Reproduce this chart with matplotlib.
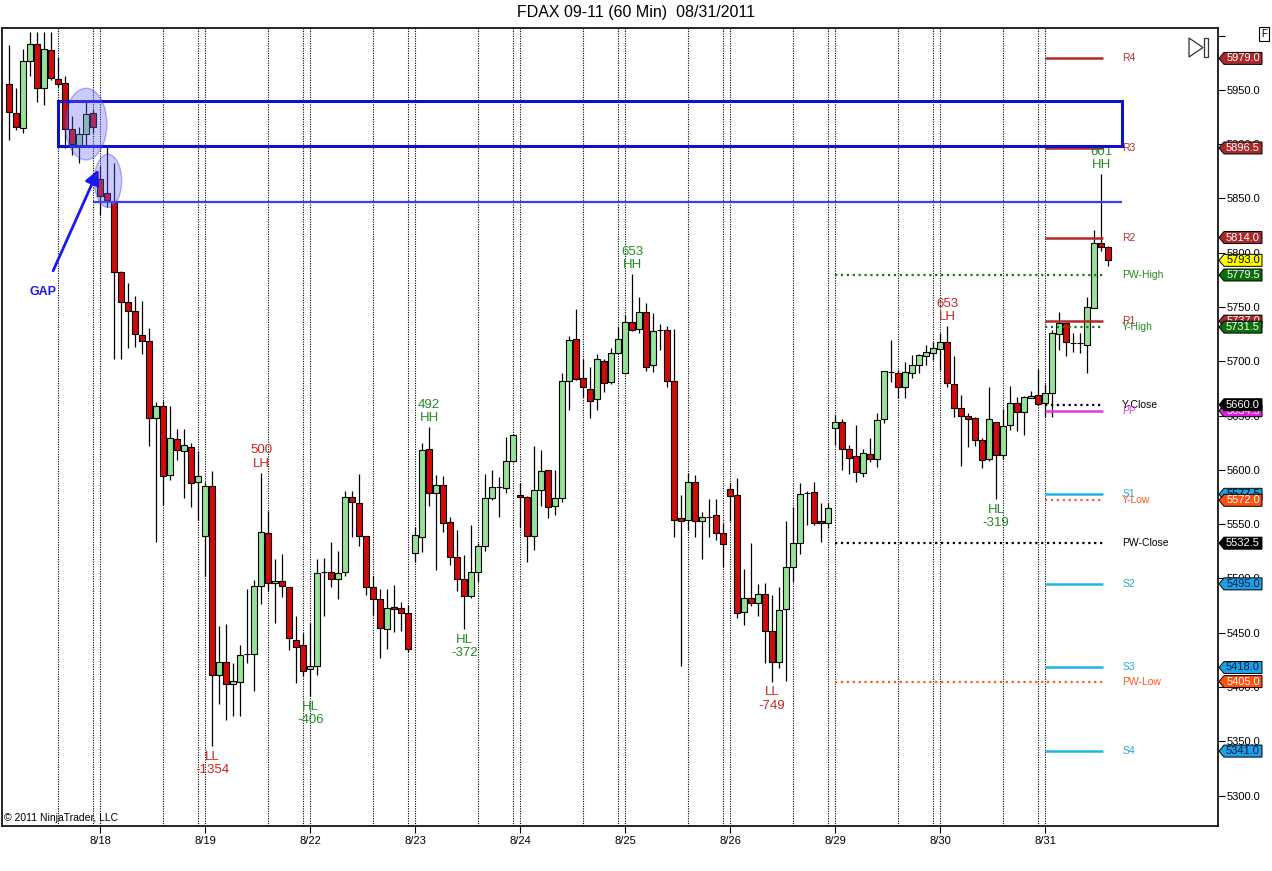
import numpy as np
import matplotlib
matplotlib.use('Agg')
import matplotlib.pyplot as plt
from matplotlib.patches import Rectangle, Ellipse, Polygon

plt.rcParams['font.family'] = ['Liberation Sans', 'DejaVu Sans']

# hourly FDAX bars, 8/17 (partial) .. 8/31
opens = [5955.5, 5929, 5914.5, 5977, 5992.5, 5951.5, 5986.5, 5960, 5956, 5914, 5899.5, 5909, 5928.5,
         5867.5, 5855, 5848, 5782.5, 5755, 5746, 5724, 5719, 5647.5, 5659, 5595, 5628, 5617.5, 5621,
         5588.5, 5539.5, 5585, 5411.5, 5423.5, 5402.5, 5404.5, 5430, 5430, 5493, 5541.5, 5495.5,
         5498, 5492, 5443.5, 5439, 5416.5, 5419, 5505.5, 5506, 5499.5, 5505.5, 5575, 5569.5, 5539,
         5492, 5481, 5453.5, 5474, 5472.5, 5468, 5523.5, 5538.5, 5619, 5578.5, 5586, 5552, 5520,
         5499.5, 5483.5, 5506, 5530, 5574, 5584, 5583, 5608.5, 5577, 5575, 5539, 5581.5, 5599.5,
         5567, 5574, 5682, 5720.5, 5684.5, 5674.5, 5665, 5700.5, 5680.5, 5707.5, 5689, 5736,
         5729.5, 5745, 5696.5, 5728.5, 5729, 5682, 5555.5, 5553.5, 5589, 5552.5, 5557, 5558.5,
         5541.5, 5582, 5577, 5469.5, 5482, 5477, 5485.5, 5452, 5423.5, 5471.5, 5510.5, 5532.5,
         5579, 5579.5, 5552.5, 5551, 5638.5, 5644, 5619, 5613, 5597.5, 5614.5, 5610, 5646.5,
         5690.5, 5689.5, 5676.5, 5689.5, 5696.5, 5705, 5707.5, 5711, 5717.5, 5679, 5657, 5649.5,
         5647.5, 5627.5, 5610, 5644, 5614, 5641.5, 5662, 5653, 5666.5, 5669, 5661.5, 5670.5,
         5725.5, 5735, 5717, 5717, 5715, 5749, 5809, 5805.5]
highs = [5991.5, 5951.5, 5987.5, 6003, 6003, 6003, 6003, 5980, 5962.5, 5926, 5916, 5939, 5931.5,
         5879.5, 5898, 5882.5, 5783, 5772.5, 5760.5, 5756, 5730.5, 5662.5, 5663.5, 5658.5, 5638,
         5637.5, 5624.5, 5617.5, 5588.5, 5599, 5456.5, 5458, 5422, 5439, 5490.5, 5498.5, 5597.5,
         5562, 5518, 5522.5, 5492, 5465.5, 5449.5, 5459, 5517.5, 5518.5, 5534, 5525.5, 5581, 5581,
         5596, 5539, 5502.5, 5490, 5490, 5494, 5478.5, 5475.5, 5547, 5624.5, 5639.5, 5595.5, 5594,
         5557, 5544.5, 5521.5, 5549.5, 5532.5, 5596.5, 5599.5, 5593.5, 5630.5, 5633, 5587.5,
         5575.5, 5622, 5618.5, 5600, 5600, 5689, 5723.5, 5748.5, 5702, 5695, 5707, 5702, 5712,
         5731.5, 5743, 5780.5, 5759, 5753.5, 5744.5, 5734.5, 5732.5, 5729.5, 5577, 5597, 5595.5,
         5561.5, 5573, 5573, 5551, 5587.5, 5592.5, 5508.5, 5532.5, 5495, 5495.5, 5485, 5492.5,
         5552.5, 5565.5, 5587.5, 5581, 5589, 5569.5, 5569.5, 5650.5, 5647, 5623, 5641.5, 5619.5,
         5629, 5652, 5691.5, 5719.5, 5692, 5699, 5706, 5707, 5715, 5718, 5726, 5732.5, 5705, 5669,
         5652, 5649, 5629, 5676, 5644.5, 5656, 5677.5, 5667, 5668, 5673, 5692.5, 5679, 5729, 5745,
         5736.5, 5726, 5726, 5759.5, 5820.5, 5872.5, 5806]
lows = [5903.5, 5913, 5910, 5962.5, 5938.5, 5936, 5959, 5953, 5896.5, 5890, 5882.5, 5897, 5910,
        5835, 5842.5, 5702, 5702, 5712, 5713, 5706.5, 5622, 5534, 5567.5, 5590.5, 5609, 5574.5,
        5565.5, 5554, 5502.5, 5346, 5384, 5370, 5373.5, 5373, 5422, 5396.5, 5476.5, 5488, 5459,
        5482.5, 5434, 5403.5, 5410.5, 5392, 5411, 5465.5, 5492.5, 5481, 5502.5, 5538, 5529.5, 5485,
        5466.5, 5426.5, 5435, 5451, 5452, 5432.5, 5515.5, 5524, 5567, 5508, 5543, 5512.5, 5488,
        5453.5, 5482, 5497, 5525.5, 5572.5, 5557, 5578.5, 5607.5, 5547, 5515.5, 5526.5, 5567,
        5555.5, 5558.5, 5570, 5655.5, 5683, 5667, 5647.5, 5655.5, 5672, 5679, 5707, 5688.5, 5727.5,
        5726.5, 5691.5, 5690.5, 5710, 5676.5, 5538.5, 5419, 5544.5, 5538, 5517.5, 5538.5, 5535,
        5510.5, 5552.5, 5463.5, 5457, 5474.5, 5465.5, 5422.5, 5405, 5417.5, 5406, 5497, 5522.5,
        5549.5, 5549.5, 5534, 5546.5, 5623, 5599.5, 5596.5, 5588.5, 5593, 5607, 5603, 5643.5,
        5680.5, 5666.5, 5666.5, 5685, 5689.5, 5696.5, 5701.5, 5692, 5676, 5649, 5604, 5621, 5622,
        5601.5, 5608.5, 5573, 5610, 5637, 5635.5, 5632, 5666, 5660, 5649, 5649, 5710.5, 5705,
        5709, 5707.5, 5689.5, 5749, 5802, 5788]
closes = [5930, 5915.5, 5977, 5992.5, 5951.5, 5987.5, 5961, 5955.5, 5914, 5900.5, 5909, 5927.5, 5916,
          5852.5, 5848.5, 5782.5, 5755, 5746, 5725, 5718.5, 5647.5, 5659, 5594.5, 5629, 5618.5,
          5623, 5588, 5594, 5585, 5411.5, 5423.5, 5402.5, 5406, 5429.5, 5430, 5493, 5543, 5495.5,
          5498, 5493, 5445, 5437, 5415, 5419.5, 5505, 5505.5, 5499.5, 5505, 5575, 5570, 5539, 5492,
          5481, 5454, 5472.5, 5471.5, 5468.5, 5435, 5540, 5618.5, 5579, 5586, 5551, 5520, 5499.5,
          5483.5, 5506, 5530, 5574, 5584.5, 5584, 5608.5, 5632, 5575, 5539, 5581.5, 5599, 5566,
          5574.5, 5682, 5719.5, 5683.5, 5676, 5663, 5702, 5680, 5707.5, 5720.5, 5736.5, 5729, 5745,
          5694.5, 5727.5, 5728.5, 5682, 5554, 5552.5, 5589, 5552.5, 5556.5, 5557, 5541.5, 5531.5,
          5576, 5468.5, 5482, 5477, 5485.5, 5452, 5423.5, 5470.5, 5510.5, 5532.5, 5578, 5579, 5551,
          5551, 5564.5, 5644, 5619, 5611, 5598.5, 5615.5, 5610, 5646, 5691, 5690.5, 5676.5, 5690.5,
          5696.5, 5705.5, 5708.5, 5712, 5717.5, 5680, 5657, 5650, 5646.5, 5627.5, 5609, 5646.5,
          5614, 5640, 5662, 5653, 5667, 5668.5, 5660.5, 5670.5, 5726, 5735, 5717.5, 5717, 5717,
          5750, 5809, 5805.5, 5793]

bars_per_day = 15
day_labels = ['8/18', '8/19', '8/22', '8/23', '8/24', '8/25', '8/26', '8/29', '8/30', '8/31']
first_day_bar = 13

# swing labels: bar index, text, above/below
swing_bars = [29, 36, 43, 60, 65, 89, 109, 134, 141, 156]
swing_texts = ['LL\n-1354', '500\nLH', 'HL\n-406', '492\nHH', 'HL\n-372', '653\nHH',
               'LL\n-749', '653\nLH', 'HL\n-319', '601\nHH']
swing_up = [False, True, False, True, False, True, False, True, False, True]

# pivot levels for 8/31 and previous-week levels
level_names = ['R4', 'R3', 'R2', 'R1', 'Y-High', 'PW-High', 'Y-Close', 'PP', 'S1', 'Y-Low',
               'PW-Close', 'S2', 'S3', 'PW-Low', 'S4']
level_values = [5979.0, 5896.5, 5814.0, 5737.0, 5731.5, 5779.5, 5660.0, 5654.5, 5577.5, 5572.0,
                5532.5, 5495.0, 5418.0, 5405.0, 5341.0]
last_price = 5793.0

RED_LVL = '#b22a2a'
GRN_LVL = '#1a7a1a'
CYAN = '#1eb4e6'
ORNG = '#ff5a1e'
MAG = '#e03ae0'
level_style = {
    'R4': (RED_LVL, '-'), 'R3': (RED_LVL, '-'), 'R2': (RED_LVL, '-'), 'R1': (RED_LVL, '-'),
    'Y-High': (GRN_LVL, ':'), 'PW-High': (GRN_LVL, ':'), 'Y-Close': ('black', ':'),
    'PP': (MAG, '-'), 'S1': (CYAN, '-'), 'Y-Low': (ORNG, ':'), 'PW-Close': ('black', ':'),
    'S2': (CYAN, '-'), 'S3': (CYAN, '-'), 'PW-Low': (ORNG, ':'), 'S4': (CYAN, '-'),
}
label_color = {'R4': '#b03030', 'R3': '#b03030', 'R2': '#b03030', 'R1': '#b03030',
               'Y-High': '#228b22', 'PW-High': '#228b22', 'Y-Close': 'black', 'PP': MAG,
               'S1': '#28a8d8', 'Y-Low': ORNG, 'PW-Close': 'black', 'S2': '#28a8d8',
               'S3': '#28a8d8', 'PW-Low': ORNG, 'S4': '#28a8d8'}

fig = plt.figure(figsize=(12.72, 8.71), dpi=100)
W, H = 1272, 871
ax = fig.add_axes([2 / W, 45 / H, 1216 / W, 798 / H])
ax.set_xlim(-1.04, 172.7)
ax.set_ylim(5272, 6007)

o = np.array(opens); h = np.array(highs); l = np.array(lows); c = np.array(closes)
x = np.arange(len(o))

# session separators
n_days = len(day_labels)
sep = []
for d in range(n_days):
    start = first_day_bar + bars_per_day * d
    sep += [start - 6, start - 1, start]
ax.vlines(sep, 5272, 6007, colors='black', linestyles=(0, (1, 1.2)), lw=0.8, zorder=1)

# candles
GREEN = '#96e296'
RED = '#d20a0a'
cols = np.where(c > o, GREEN, np.where(c < o, RED, 'black'))
ax.vlines(x, l, h, colors='black', lw=0.9, zorder=3)
ax.bar(x, np.abs(c - o), bottom=np.minimum(o, c), width=0.84, color=cols,
       edgecolor='black', linewidth=0.8, zorder=4)

# swing labels
for b, t, up in zip(swing_bars, swing_texts, swing_up):
    tag = t.split('\n')[1] if up else t.split('\n')[0]
    col = '#228b22' if tag.startswith('H') else '#cc2222'
    if up:
        ax.annotate(t, (b, h[b]), xytext=(0, 2), textcoords='offset points', ha='center',
                    va='bottom', fontsize=9.5, color=col, linespacing=1.15, zorder=6)
    else:
        ax.annotate(t, (b, l[b]), xytext=(0, -3.5), textcoords='offset points', ha='center',
                    va='top', fontsize=9.5, color=col, linespacing=1.15, zorder=6)

# levels
lbl_x = 159.0
for name, v in zip(level_names, level_values):
    col, ls = level_style[name]
    x0 = 118 if name.startswith('PW') else 148
    lw = 1.6 if ls == ':' else 1.8
    ax.hlines(v, x0, 156.3, colors=col, linestyles=ls, lw=lw, zorder=5)
    ax.text(lbl_x, v, name, color=label_color[name], fontsize=7.5, va='center', ha='left', zorder=6)

# blue gap annotations
ax.add_patch(Rectangle((6.95, 5898.5), 152.0, 41.5, fill=False, ec='#1010cc', lw=2.2, zorder=7))
ax.hlines(5846.5, 12, 159, colors='#3a3aff', lw=1.6, zorder=7)
ax.add_patch(Ellipse((10.96, 5918.5), 5.96, 66, fc='#6a6aff', ec='#3030d0', alpha=0.35, lw=1, zorder=8))
ax.add_patch(Ellipse((14.1, 5866.2), 3.9, 49, fc='#6a6aff', ec='#3030d0', alpha=0.35, lw=1, zorder=8))
ax.annotate('', xy=(12.9, 5879), xytext=(6.1, 5781),
            arrowprops=dict(arrowstyle='-|>', color='#1a1aee', lw=2, mutation_scale=22), zorder=8)
ax.text(4.8, 5764, 'GAP', color='#1a1aee', fontsize=9, fontweight='bold', ha='center', va='center')

# axes styling
ax.set_xticks([first_day_bar + bars_per_day * d for d in range(n_days)])
ax.set_xticklabels(day_labels)
yt = np.arange(5300, 6001, 50)
ax.set_yticks(yt)
ax.set_yticklabels(['%.1f' % v if v < 6000 else '' for v in yt])
ax.yaxis.tick_right()
ax.tick_params(axis='x', direction='out', length=5, labelsize=8, pad=2)
ax.tick_params(axis='y', direction='out', length=5, labelsize=8, pad=1)
for s in ax.spines.values():
    s.set_linewidth(1.2)

# price flags on the right axis
flags = [(5979.0, '#a8282a', 'white'), (5896.5, '#a8282a', 'white'), (5814.0, '#a8282a', 'white'),
         (last_price, '#ffff00', 'black'), (5779.5, '#0a6e0a', 'white'), (5737.0, '#a8282a', 'white'),
         (5731.5, '#0a6e0a', 'white'), (5654.5, '#e020e0', 'white'), (5660.0, 'black', 'white'),
         (5577.5, '#1ea0e6', 'black'), (5572.0, '#ff5010', 'white'), (5532.5, 'black', 'white'),
         (5495.0, '#1ea0e6', '#0a1a40'), (5418.0, '#1ea0e6', '#0a1a40'), (5405.0, '#ff5010', 'white'),
         (5341.0, '#1ea0e6', '#0a1a40')]
tr = ax.get_yaxis_transform()
px = 1.0 / 1216
hh = 6.0 * 0.921
for i, (v, fc, tc) in enumerate(flags):
    poly = Polygon([(1 + 1 * px, v), (1 + 6 * px, v + hh), (1 + 44 * px, v + hh),
                    (1 + 44 * px, v - hh), (1 + 6 * px, v - hh)], closed=True, transform=tr,
                   fc=fc, ec='black', lw=0.7, clip_on=False, zorder=10 + i)
    ax.add_patch(poly)
    ax.text(1 + 25 * px, v, '%.1f' % v, transform=tr, color=tc, fontsize=8, ha='center',
            va='center', clip_on=False, zorder=10.5 + i)

ax.text(0.002, 0.004, '\u00a9 2011 NinjaTrader, LLC', transform=ax.transAxes, fontsize=7.5,
        ha='left', va='bottom')

fig.text(0.5, 1 - 13 / H, 'FDAX 09-11 (60 Min)  08/31/2011', ha='center', va='center', fontsize=11.5)

# small toolbar glyphs in the corner
fig.text(1264 / W, 1 - 34 / H, 'F', fontsize=7, ha='center', va='center',
         bbox=dict(boxstyle='square,pad=0.25', fc='white', ec='black', lw=0.8))
fig.patches.append(Polygon([(1189 / W, 1 - 38 / H), (1189 / W, 1 - 57 / H), (1203 / W, 1 - 47.5 / H)],
                           closed=True, fill=False, ec='#333333', lw=0.9, transform=fig.transFigure))
fig.patches.append(Rectangle((1204 / W, 1 - 57 / H), 4 / W, 19 / H, fill=False, ec='#333333', lw=0.9,
                             transform=fig.transFigure))

fig.savefig('out.png', dpi=100)
